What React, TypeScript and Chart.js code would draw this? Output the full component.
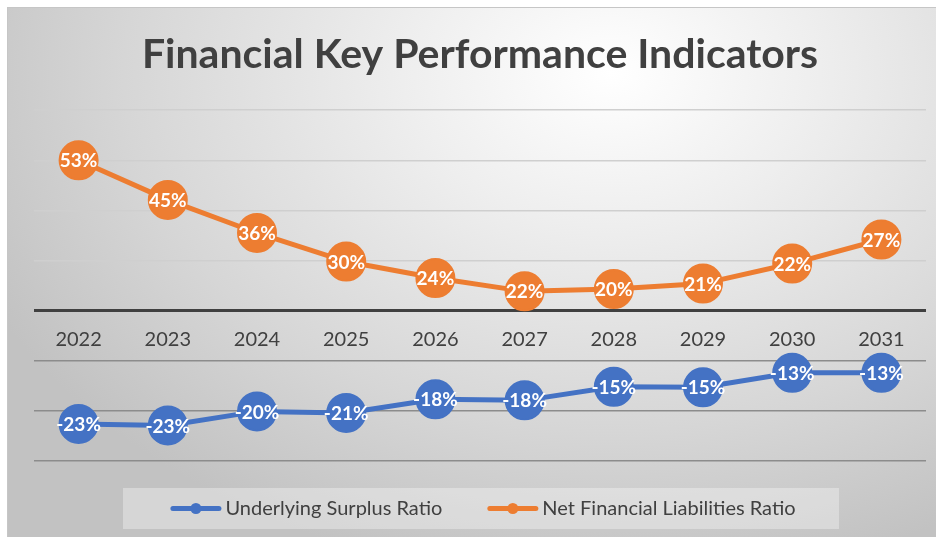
import React, { useEffect, useRef } from "react";
import { Chart, registerables } from "chart.js";

Chart.register(...registerables);

const years = ["2022", "2023", "2024", "2025", "2026", "2027", "2028", "2029", "2030", "2031"];

const surplusName = "Underlying Surplus Ratio";
const surplusValues = [-22.6, -22.9, -20.1, -20.4, -17.7, -17.9, -15.2, -15.3, -12.4, -12.4];
const surplusLabels = ["-23%", "-23%", "-20%", "-21%", "-18%", "-18%", "-15%", "-15%", "-13%", "-13%"];

const liabilitiesName = "Net Financial Liabilities Ratio";
const liabilitiesValues = [30.0, 22.1, 15.5, 9.8, 6.5, 3.85, 4.3, 5.4, 9.4, 14.2];
const liabilitiesLabels = ["53%", "45%", "36%", "30%", "24%", "22%", "20%", "21%", "22%", "27%"];

const yMin = -30;
const yMax = 40;
const yStep = 10;

const titleText = "Financial Key Performance Indicators";

const BLUE = "#4472C4";
const ORANGE = "#ED7D31";
const TEXT = "#404040";
const FONT = "Lato, 'Open Sans', sans-serif";

const valueLabelPlugin = {
  id: "valueLabels",
  afterDatasetsDraw(chart: any) {
    const ctx = chart.ctx;
    chart.data.datasets.forEach((ds: any, i: number) => {
      const meta = chart.getDatasetMeta(i);
      const labels: string[] = ds.valueLabels || [];
      meta.data.forEach((pt: any, j: number) => {
        ctx.save();
        ctx.font = `bold 19px ${FONT}`;
        ctx.fillStyle = "#ffffff";
        ctx.textAlign = "center";
        ctx.textBaseline = "middle";
        ctx.fillText(labels[j], pt.x, pt.y + 1);
        ctx.restore();
      });
    });
  },
};

const legendPlugin = {
  id: "boxLegend",
  afterDraw(chart: any) {
    const ctx = chart.ctx;
    const boxX = 123;
    const boxY = 488;
    const boxW = 716;
    const boxH = 41;
    ctx.save();
    ctx.fillStyle = "rgba(255,255,255,0.33)";
    ctx.fillRect(boxX, boxY, boxW, boxH);
    ctx.font = `20px ${FONT}`;
    const markerW = 51;
    const markerGap = 4;
    const itemGap = 45;
    const items = chart.data.datasets.map((ds: any) => ({
      text: ds.label,
      color: ds.borderColor,
      w: markerW + markerGap + ctx.measureText(ds.label).width,
    }));
    const total = items.reduce((s: number, it: any) => s + it.w, 0) + itemGap * (items.length - 1);
    let x = boxX + boxW / 2 - total / 2 + 2;
    const cy = boxY + boxH / 2;
    items.forEach((it: any) => {
      ctx.strokeStyle = it.color;
      ctx.lineWidth = 5;
      ctx.lineCap = "round";
      ctx.beginPath();
      ctx.moveTo(x + 2.5, cy);
      ctx.lineTo(x + markerW - 2.5, cy);
      ctx.stroke();
      ctx.fillStyle = it.color;
      ctx.beginPath();
      ctx.arc(x + markerW / 2, cy, 5.5, 0, Math.PI * 2);
      ctx.fill();
      ctx.fillStyle = TEXT;
      ctx.textAlign = "left";
      ctx.textBaseline = "middle";
      ctx.fillText(it.text, x + markerW + markerGap, cy);
      x += it.w + itemGap;
    });
    ctx.restore();
  },
};

export default function App() {
  const canvasRef = useRef<HTMLCanvasElement | null>(null);

  useEffect(() => {
    document.body.style.margin = "0";
    const canvas = canvasRef.current;
    if (!canvas) return;
    const chart = new Chart(canvas, {
      type: "line",
      data: {
        labels: years,
        datasets: [
          {
            label: surplusName,
            data: surplusValues,
            valueLabels: surplusLabels,
            borderColor: BLUE,
            backgroundColor: BLUE,
            borderWidth: 5,
            pointRadius: 19,
            pointHoverRadius: 19,
            pointBorderWidth: 2,
            pointBackgroundColor: BLUE,
            pointBorderColor: BLUE,
            tension: 0,
            fill: false,
            clip: false,
          } as any,
          {
            label: liabilitiesName,
            data: liabilitiesValues,
            valueLabels: liabilitiesLabels,
            borderColor: ORANGE,
            backgroundColor: ORANGE,
            borderWidth: 5,
            pointRadius: 19,
            pointHoverRadius: 19,
            pointBorderWidth: 2,
            pointBackgroundColor: ORANGE,
            pointBorderColor: ORANGE,
            tension: 0,
            fill: false,
            clip: false,
          } as any,
        ],
      },
      options: {
        animation: false,
        responsive: false,
        maintainAspectRatio: false,
        events: [],
        layout: { autoPadding: false, padding: { left: 34, right: 15, top: 0, bottom: 76 } },
        plugins: {
          legend: { display: false },
          tooltip: { enabled: false },
          title: {
            display: true,
            text: titleText,
            color: TEXT,
            font: { family: FONT, size: 41, weight: "bold" },
            padding: { top: 30, bottom: 31 },
          },
        },
        scales: {
          x: {
            type: "category",
            offset: true,
            position: { y: 0 } as any,
            grid: { display: false, drawTicks: false },
            border: { display: false },
            ticks: {
              color: TEXT,
              font: { family: FONT, size: 20 },
              padding: 17,
              maxRotation: 0,
              autoSkip: false,
            },
          },
          y: {
            min: yMin,
            max: yMax,
            ticks: { display: false, stepSize: yStep },
            border: { display: false },
            grid: {
              drawTicks: false,
              color: (c: any) =>
                c.tick && c.tick.value === 0 ? "#404040" : c.tick && c.tick.value > 0 ? "#cfcfcf" : "#8c8c8c",
              lineWidth: (c: any) => (c.tick && c.tick.value === 0 ? 3 : 1.5),
            },
          },
        },
      },
      plugins: [valueLabelPlugin, legendPlugin],
    });
    return () => chart.destroy();
  }, []);

  return (
    <div style={{ position: "fixed", left: 0, top: 0, width: 941, height: 537, background: "#ffffff", overflow: "hidden" }}>
      <div
        style={{
          position: "absolute",
          left: 7,
          top: 7,
          width: 929,
          height: 540,
          boxSizing: "border-box",
          borderTop: "1px solid #c6c6c6",
          borderLeft: "1px solid #c6c6c6",
          background: "radial-gradient(ellipse 75% 95% at 65% 12%, #ffffff 0%, #eeeeee 30%, #d6d6d6 70%, #c2c2c2 100%)",
        }}
      />
      <canvas
        ref={canvasRef}
        width={941}
        height={537}
        style={{ position: "absolute", left: 0, top: 0, width: 941, height: 537 }}
      />
    </div>
  );
}
